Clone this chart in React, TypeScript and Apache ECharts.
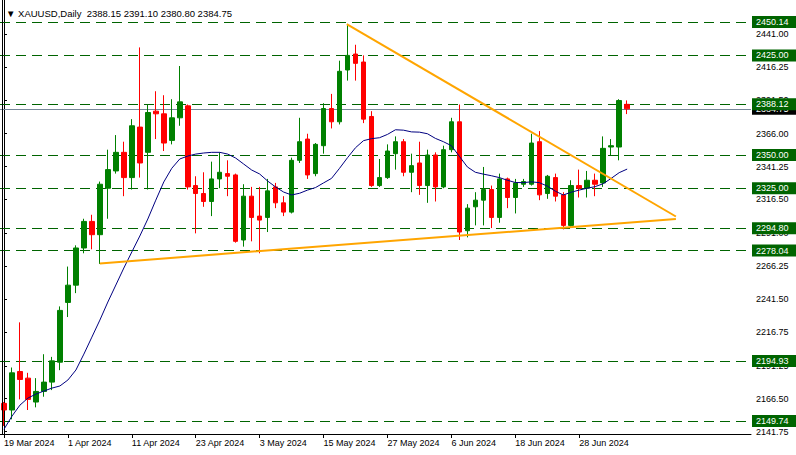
import React, { useEffect, useRef } from "react";
import * as echarts from "echarts";

const instrument = "XAUUSD";
const timeframe = "Daily";

const dates = [
  "19 Mar 2024", "20 Mar 2024", "21 Mar 2024", "22 Mar 2024", "25 Mar 2024", "26 Mar 2024", "27 Mar 2024", "28 Mar 2024",
  "1 Apr 2024", "2 Apr 2024", "3 Apr 2024", "4 Apr 2024", "5 Apr 2024", "8 Apr 2024", "9 Apr 2024", "10 Apr 2024",
  "11 Apr 2024", "12 Apr 2024", "15 Apr 2024", "16 Apr 2024", "17 Apr 2024", "18 Apr 2024", "19 Apr 2024", "22 Apr 2024",
  "23 Apr 2024", "24 Apr 2024", "25 Apr 2024", "26 Apr 2024", "29 Apr 2024", "30 Apr 2024", "1 May 2024", "2 May 2024",
  "3 May 2024", "6 May 2024", "7 May 2024", "8 May 2024", "9 May 2024", "10 May 2024", "13 May 2024", "14 May 2024",
  "15 May 2024", "16 May 2024", "17 May 2024", "20 May 2024", "21 May 2024", "22 May 2024", "23 May 2024", "24 May 2024",
  "27 May 2024", "28 May 2024", "29 May 2024", "30 May 2024", "31 May 2024", "3 Jun 2024", "4 Jun 2024", "5 Jun 2024",
  "6 Jun 2024", "7 Jun 2024", "10 Jun 2024", "11 Jun 2024", "12 Jun 2024", "13 Jun 2024", "14 Jun 2024", "17 Jun 2024",
  "18 Jun 2024", "19 Jun 2024", "20 Jun 2024", "21 Jun 2024", "24 Jun 2024", "25 Jun 2024", "26 Jun 2024", "27 Jun 2024",
  "28 Jun 2024", "1 Jul 2024", "2 Jul 2024", "3 Jul 2024", "4 Jul 2024", "5 Jul 2024", "8 Jul 2024",
];

const opens = [
  2163, 2158, 2187, 2182, 2164, 2172, 2179, 2194,
  2239, 2252, 2280, 2300, 2290, 2325, 2338, 2352,
  2333, 2371, 2352, 2383, 2381, 2361, 2378, 2387,
  2327, 2321, 2315, 2332, 2336, 2335, 2286, 2319,
  2304, 2303, 2326, 2314, 2307, 2346, 2362, 2336,
  2357, 2385, 2375, 2414, 2426, 2420, 2379, 2327,
  2333, 2351, 2360, 2337, 2344, 2327, 2350, 2326,
  2354, 2375, 2293, 2311, 2316, 2324, 2303, 2332,
  2318, 2328, 2328, 2360, 2321, 2333, 2320, 2297,
  2327, 2325, 2331, 2329, 2356, 2356, 2388.15,
];
const highs = [
  2164, 2190, 2224, 2186, 2182, 2200, 2198, 2236,
  2266, 2282, 2302, 2305, 2330, 2354, 2365, 2360,
  2377, 2431, 2388, 2398, 2395, 2392, 2417, 2388,
  2334, 2337, 2345, 2352, 2346, 2336, 2328, 2326,
  2326, 2332, 2329, 2319, 2348, 2378, 2366, 2359,
  2389, 2396, 2421, 2448, 2433, 2425, 2383, 2347,
  2358, 2364, 2362, 2351, 2360, 2354, 2352, 2357,
  2378, 2388, 2313, 2322, 2341, 2327, 2336, 2333,
  2332, 2332, 2366, 2368, 2335, 2336, 2322, 2331,
  2339, 2338, 2336, 2364, 2362, 2392, 2391.1,
];
const lows = [
  2146, 2151, 2166, 2158, 2160, 2168, 2173, 2188,
  2228, 2246, 2276, 2279, 2268, 2302, 2336, 2319,
  2324, 2333, 2324, 2362, 2353, 2358, 2372, 2324,
  2291, 2311, 2304, 2325, 2319, 2284, 2281, 2285,
  2276, 2292, 2310, 2304, 2306, 2344, 2332, 2334,
  2351, 2370, 2373, 2406, 2406, 2374, 2326, 2326,
  2332, 2339, 2334, 2322, 2320, 2314, 2315, 2325,
  2352, 2286, 2288, 2297, 2297, 2295, 2299, 2310,
  2306, 2326, 2327, 2316, 2317, 2315, 2294, 2296,
  2318, 2318, 2319, 2326, 2350, 2346, 2380.8,
];
const closes = [
  2158, 2186, 2181, 2166, 2172, 2179, 2195, 2233,
  2252, 2280, 2300, 2290, 2328, 2339, 2352, 2333,
  2372, 2344, 2382, 2381, 2359, 2378, 2390, 2326,
  2321, 2315, 2332, 2337, 2334, 2285, 2319, 2303,
  2301, 2323, 2314, 2307, 2346, 2360, 2335, 2358,
  2385, 2375, 2413, 2425, 2419, 2377, 2327, 2333,
  2353, 2360, 2337, 2342, 2327, 2350, 2326, 2354,
  2375, 2292, 2310, 2316, 2324, 2303, 2332, 2318,
  2329, 2330, 2359, 2320, 2334, 2319, 2297, 2327,
  2325, 2331, 2328, 2355, 2357, 2391, 2384.75,
];

const movingAverage = [
  2143.5, 2153.4, 2161.7, 2167, 2170, 2172.3, 2174.5, 2176.1, 2180.6, 2188.1,
  2200.1, 2212.9, 2225.7, 2239.3, 2252.1, 2264.9, 2277, 2289, 2301.8, 2316,
  2329.7, 2340, 2347, 2349.2, 2350.7, 2351.5, 2352, 2352, 2350.7, 2347.7,
  2343.2, 2338.7, 2335.7, 2330.4, 2325.9, 2322.1, 2319.9, 2321.2, 2323.6, 2325.5,
  2329, 2332.4, 2340, 2348, 2355.5, 2360.8, 2362.3, 2363, 2365.5, 2369,
  2368.7, 2367.4, 2367.2, 2366, 2362.5, 2360, 2357, 2349, 2341, 2337,
  2335.6, 2334.4, 2333, 2331, 2329.3, 2329.2, 2329.8, 2329.2, 2326.6, 2322.8,
  2319.9, 2322, 2323.6, 2325, 2326.2, 2328.4, 2332.4, 2336.7, 2339.4,
];

const futureSlots = 15;

const levelValues = [2450.14, 2425.0, 2388.12, 2350.0, 2325.0, 2294.8, 2278.04, 2194.93, 2149.74];

const yTickLabels = [
  2141.75, 2166.5, 2191.25, 2216.75, 2241.5, 2266.25, 2291.0, 2316.5, 2341.25, 2366.0, 2391.5, 2416.25, 2441.0,
];

const upperTrendline = [
  [42.9, 2448.6],
  [84.1, 2303.7],
];
const lowerTrendline = [
  [12, 2268.4],
  [84.1, 2301.8],
];

const yMin = 2139.94;
const yMax = 2466.7;

const FONT = "Liberation Sans";

export default function App() {
  const ref = useRef<HTMLDivElement>(null);

  useEffect(() => {
    if (!ref.current) return;
    const chart = echarts.init(ref.current, null, { renderer: "svg" });

    const categories = [...dates, ...Array(futureSlots).fill("")];
    const candleData = opens.map((o, i) => [o, closes[i], lows[i], highs[i]]);
    const last = opens.length - 1;
    const header = `\u25BC ${instrument},${timeframe}  ${opens[last].toFixed(2)} ${highs[last].toFixed(2)} ${lows[last].toFixed(2)} ${closes[last].toFixed(2)}`;
    const showIdx = (index: number, value: string) => value !== "" && index % 8 === 0;

    chart.setOption({
      animation: false,
      backgroundColor: "#ffffff",
      textStyle: { fontFamily: FONT },
      title: {
        text: header,
        left: 1,
        top: 3,
        textStyle: { fontFamily: FONT, fontSize: 9.5, fontWeight: "normal", color: "#000" },
      },
      grid: { left: 0, right: 45, top: 0, bottom: 21 },
      xAxis: [
        {
          type: "category",
          data: categories,
          boundaryGap: true,
          axisLine: { show: true, lineStyle: { color: "#000", width: 1 } },
          axisTick: { show: true, alignWithLabel: true, interval: showIdx, length: 4, lineStyle: { color: "#000" } },
          axisLabel: {
            interval: showIdx,
            align: "left",
            color: "#000",
            fontFamily: FONT,
            fontSize: 9,
            margin: 4,
          },
          splitLine: { show: false },
        },
        {
          type: "value",
          min: -0.5,
          max: categories.length - 0.5,
          show: false,
        },
      ],
      yAxis: {
        type: "value",
        position: "right",
        min: yMin,
        max: yMax,
        axisLine: { show: true, lineStyle: { color: "#000", width: 1 } },
        axisTick: { show: true, length: 3, customValues: yTickLabels, lineStyle: { color: "#000" } },
        axisLabel: {
          customValues: yTickLabels,
          formatter: (v: number) => v.toFixed(2),
          color: "#000",
          fontFamily: FONT,
          fontSize: 9,
          margin: 5,
        },
        splitLine: { show: false },
      },
      graphic: [
        {
          type: "line",
          shape: { x1: 2.5, y1: 0, x2: 2.5, y2: 434 },
          style: { stroke: "#000", lineWidth: 1 },
          z: 10,
        },
      ],
      series: [
        {
          type: "candlestick",
          xAxisIndex: 0,
          data: candleData,
          barWidth: 5,
          itemStyle: {
            color: "#008000",
            color0: "#ff0000",
            borderColor: "#008000",
            borderColor0: "#ff0000",
            borderWidth: 1,
          },
          markLine: {
            silent: true,
            z: 0.5,
            symbol: ["none", "none"],
            data: [{ yAxis: closes[last] }],
            lineStyle: { color: "#778899", type: "solid", width: 1 },
            label: {
              position: "end",
              distance: 1,
              formatter: () => closes[last].toFixed(2),
              color: "#fff",
              backgroundColor: "#000",
              fontFamily: FONT,
              fontSize: 9,
              padding: [2, 8, 1, 4],
            },
          },
        },
        {
          type: "line",
          xAxisIndex: 0,
          data: [],
          markLine: {
            silent: true,
            z: 1,
            symbol: ["none", "none"],
            data: levelValues.map((v) => ({ yAxis: v })),
            lineStyle: { color: "#006400", type: [10, 6], width: 1 },
            label: {
              position: "end",
              distance: 1,
              formatter: (p: any) => Number(p.value).toFixed(2),
              color: "#fff",
              backgroundColor: "#006400",
              fontFamily: FONT,
              fontSize: 9,
              padding: [2, 8, 1, 4],
            },
          },
        },
        {
          type: "line",
          xAxisIndex: 0,
          data: movingAverage,
          symbol: "none",
          smooth: false,
          lineStyle: { color: "#000080", width: 1 },
          z: 3,
        },
        {
          type: "line",
          xAxisIndex: 1,
          data: upperTrendline,
          symbol: "none",
          lineStyle: { color: "#ffa500", width: 2 },
          z: 4,
        },
        {
          type: "line",
          xAxisIndex: 1,
          data: lowerTrendline,
          symbol: "none",
          lineStyle: { color: "#ffa500", width: 2 },
          z: 4,
        },
      ],
    });

    return () => chart.dispose();
  }, []);

  return (
    <div
      ref={ref}
      style={{ position: "absolute", left: 0, top: 0, width: 796, height: 455, background: "#fff" }}
    />
  );
}
